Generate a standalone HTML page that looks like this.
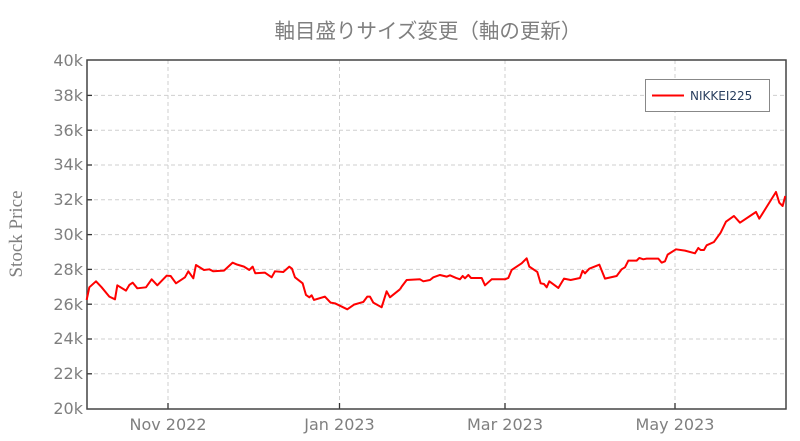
<!DOCTYPE html>
<html><head><meta charset="utf-8"><style>
html,body{margin:0;padding:0;background:#fff;}
svg{display:block;}
</style></head><body>
<svg width="800" height="441" viewBox="0 0 800 441" xmlns="http://www.w3.org/2000/svg">
<rect width="800" height="441" fill="#fff"/>
<text x="428" y="38" text-anchor="middle" font-family="'Liberation Sans','Noto Sans CJK JP',sans-serif" font-size="20.5" fill="#7f7f7f">軸目盛りサイズ変更（軸の更新）</text>
<g stroke="#cfcfcf" stroke-width="1" stroke-dasharray="4,3">
<line x1="87" x2="786" y1="95.4" y2="95.4"/>
<line x1="87" x2="786" y1="130.2" y2="130.2"/>
<line x1="87" x2="786" y1="165" y2="165"/>
<line x1="87" x2="786" y1="199.8" y2="199.8"/>
<line x1="87" x2="786" y1="234.6" y2="234.6"/>
<line x1="87" x2="786" y1="269.4" y2="269.4"/>
<line x1="87" x2="786" y1="304.2" y2="304.2"/>
<line x1="87" x2="786" y1="339" y2="339"/>
<line x1="87" x2="786" y1="373.8" y2="373.8"/>
<line x1="168" x2="168" y1="60" y2="409"/>
<line x1="339.5" x2="339.5" y1="60" y2="409"/>
<line x1="505" x2="505" y1="60" y2="409"/>
<line x1="675" x2="675" y1="60" y2="409"/>
</g>
<g stroke="#333" stroke-width="1.3">
<line x1="87" x2="92" y1="95.4" y2="95.4"/><line x1="87" x2="92" y1="130.2" y2="130.2"/><line x1="87" x2="92" y1="165" y2="165"/><line x1="87" x2="92" y1="199.8" y2="199.8"/><line x1="87" x2="92" y1="234.6" y2="234.6"/><line x1="87" x2="92" y1="269.4" y2="269.4"/><line x1="87" x2="92" y1="304.2" y2="304.2"/><line x1="87" x2="92" y1="339" y2="339"/><line x1="87" x2="92" y1="373.8" y2="373.8"/>
<line x1="168" x2="168" y1="409" y2="403"/><line x1="339.5" x2="339.5" y1="409" y2="403"/><line x1="505" x2="505" y1="409" y2="403"/><line x1="675" x2="675" y1="409" y2="403"/>
</g>
<rect x="87" y="60" width="699" height="349" fill="none" stroke="#444" stroke-width="1.5"/>
<g fill="none" stroke="#ff0000" stroke-width="2" stroke-linejoin="round">
<polyline vector-effect="non-scaling-stroke" transform="translate(0,40) scale(0.3333)" points="260,780 268,742 288,724 305,742 328,770 345,778 352,736 378,752 388,735 398,728 412,745 438,742 455,718 472,736 500,707 512,708 528,730 555,712 565,694 580,715 588,675 612,690 628,688 640,694 672,692 698,668 712,674 732,680 748,690 758,680 766,700 795,698 815,712 825,694 850,696 868,680 876,686 885,712 908,730 918,765 928,772 935,766 942,780 975,770 992,788 1005,790 1042,808 1062,794 1090,786 1102,770 1110,770 1120,788 1145,802 1160,754 1170,772 1200,748"/>
<polyline vector-effect="non-scaling-stroke" transform="translate(400,40) scale(0.3333)" points="0,748 5,740 20,720 60,718 70,724 90,720 100,712 120,705 140,710 150,706 168,714 180,718 188,708 195,715 205,705 213,714 245,714 255,736 275,718 315,718 325,714 335,690 365,670 380,655 388,680 412,696 422,730 432,732 440,742 448,724 475,744 492,716 512,720 540,714 548,692 555,700 568,686 598,674 615,716 650,708 665,688 675,682 685,662 710,662 718,654 730,658 740,656 775,656 785,668 795,664 803,644 828,628 855,632 885,640 895,624 902,630 912,630 920,616 942,606 962,578 978,545 1002,528 1020,548 1068,516 1078,536 1098,504 1128,456 1138,488 1148,498 1156,468"/>
</g>
<g font-family="'DejaVu Sans',sans-serif" font-size="16" fill="#7f7f7f" text-anchor="end">
<text x="83" y="66">40k</text><text x="83" y="101">38k</text><text x="83" y="136">36k</text><text x="83" y="170">34k</text><text x="83" y="205">32k</text><text x="83" y="240">30k</text><text x="83" y="275">28k</text><text x="83" y="310">26k</text><text x="83" y="344">24k</text><text x="83" y="379">22k</text><text x="83" y="414">20k</text>
</g>
<g font-family="'DejaVu Sans',sans-serif" font-size="16" fill="#7f7f7f" text-anchor="middle">
<text x="168" y="430">Nov 2022</text><text x="339.5" y="430">Jan 2023</text><text x="505" y="430">Mar 2023</text><text x="675" y="430">May 2023</text>
</g>
<text transform="translate(22,234) rotate(-90)" text-anchor="middle" font-family="'Liberation Serif',serif" font-size="19" fill="#7f7f7f">Stock Price</text>
<rect x="645.5" y="79.5" width="124" height="32" fill="#fff" stroke="#888" stroke-width="1"/>
<line x1="652" x2="684" y1="95.5" y2="95.5" stroke="#ff0000" stroke-width="2"/>
<text x="690" y="100" font-family="'DejaVu Sans',sans-serif" font-size="12" fill="#2a3f5f">NIKKEI225</text>
</svg>
</body></html>
